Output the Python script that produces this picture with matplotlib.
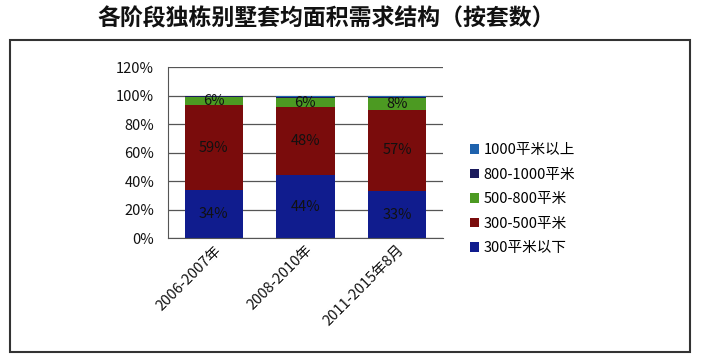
import numpy as np
import matplotlib.pyplot as plt
from matplotlib.patches import Rectangle
from matplotlib.ticker import PercentFormatter

plt.rcParams['font.family'] = ['Noto Sans CJK SC', 'DejaVu Sans']

# 数据
periods = ['2006-2007年', '2008-2010年', '2011-2015年8月']
series = ['300平米以下', '300-500平米', '500-800平米', '800-1000平米', '1000平米以上']
below300 = [34, 44, 33]
s300_500 = [59, 48, 57]
s500_800 = [6, 6, 8]
s800_1000 = [0.5, 1, 1]
above1000 = [0.5, 1, 1]
values = [below300, s300_500, s500_800, s800_1000, above1000]
show_label = [True, True, True, False, False]
colors = ['#101c8e', '#7a0c0c', '#4c9a22', '#1a1a5c', '#1e62ad']

fig = plt.figure(figsize=(7.01, 3.62), dpi=100)
ax = fig.add_axes([0.2397, 0.3425, 0.392, 0.4724])

x = np.arange(len(periods))
bottom = np.zeros(len(periods))
for name, vals, col, lab in zip(series, values, colors, show_label):
    vals = np.array(vals, dtype=float)
    bars = ax.bar(x, vals, 0.64, bottom=bottom, color=col, label=name, zorder=2)
    if lab:
        ax.bar_label(bars, labels=[f'{v:.0f}%' for v in vals], label_type='center',
                     fontsize=10.5, color='#111111')
    bottom += vals

ax.set_xlim(-0.5, 2.5)
ax.set_ylim(0, 120)
ax.set_yticks(np.arange(0, 121, 20))
ax.yaxis.set_major_formatter(PercentFormatter(decimals=0))
ax.grid(axis='y', color='#555555', linewidth=0.9, zorder=0)
ax.tick_params(axis='both', length=0, labelsize=10.5, colors='#111111')
ax.tick_params(axis='y', pad=10)
ax.set_xticks(x)
ax.set_xticklabels(periods, rotation=45, ha='right', rotation_mode='anchor')
for s in ['top', 'right']:
    ax.spines[s].set_visible(False)
ax.spines['left'].set_color('#555555')
ax.spines['bottom'].set_color('#555555')

h, l = ax.get_legend_handles_labels()
fig.legend(h[::-1], l[::-1], loc='center left', bbox_to_anchor=(0.652, 0.45),
           frameon=False, fontsize=10.5, handlelength=0.6, handleheight=0.6,
           handletextpad=0.3, labelspacing=0.72)

fig.patches.append(Rectangle((0.0143, 0.0276), 0.970, 0.862, transform=fig.transFigure,
                             fill=False, edgecolor='#333333', linewidth=1.5))
fig.text(0.466, 0.948, '各阶段独栋别墅套均面积需求结构（按套数）', ha='center', va='center',
         fontsize=16.5, fontweight='bold', color='#111111')

fig.savefig('out.png', dpi=100, facecolor='white')
